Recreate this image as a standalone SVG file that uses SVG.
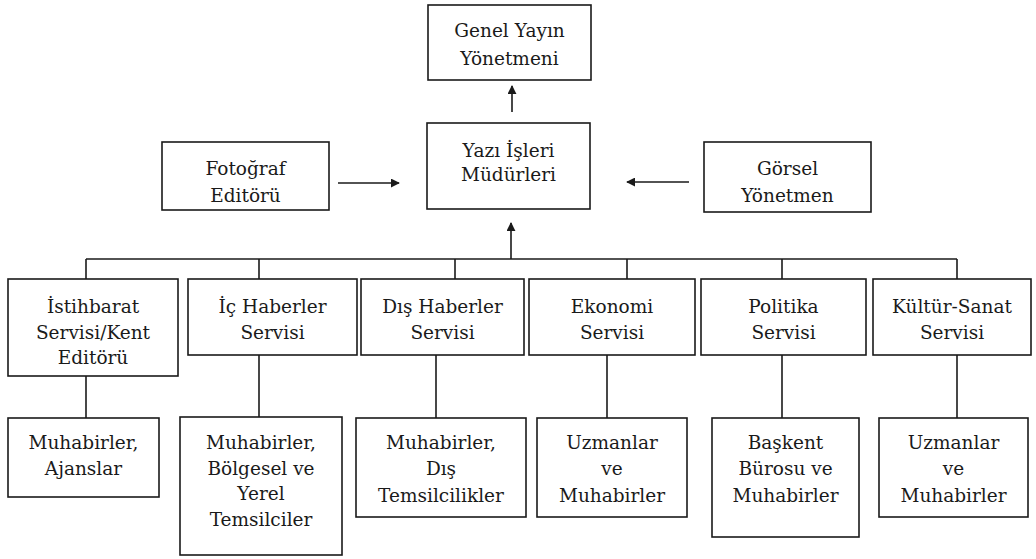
<svg xmlns="http://www.w3.org/2000/svg" width="1036" height="559" viewBox="0 0 1036 559">
<style>
.box{fill:#fff;stroke:#1a1a1a;stroke-width:1.6}
.t{font-family:'DejaVu Serif','Liberation Serif','Noto Serif',serif;font-size:18.5px;fill:#1a1a1a;text-anchor:middle}
.c{stroke:#1a1a1a;stroke-width:1.6;fill:none}
</style>
<defs>
<marker id="ah" viewBox="0 0 10 10" refX="9" refY="5" markerWidth="9" markerHeight="9" markerUnits="userSpaceOnUse" orient="auto">
<path d="M0,0 L10,5 L0,10 Z" fill="#1a1a1a"/>
</marker>
</defs>
<rect width="1036" height="559" fill="#fff"/>
<g id="connectors">
<line class="c" x1="512" y1="112" x2="512" y2="86" marker-end="url(#ah)"/>
<line class="c" x1="338" y1="183" x2="399" y2="183" marker-end="url(#ah)"/>
<line class="c" x1="689" y1="182" x2="627" y2="182" marker-end="url(#ah)"/>
<line class="c" x1="511" y1="259" x2="511" y2="223" marker-end="url(#ah)"/>
<line class="c" x1="86" y1="259" x2="957" y2="259"/>
<line class="c" x1="86" y1="259" x2="86" y2="279"/>
<line class="c" x1="259" y1="259" x2="259" y2="279"/>
<line class="c" x1="455" y1="259" x2="455" y2="279"/>
<line class="c" x1="627" y1="259" x2="627" y2="279"/>
<line class="c" x1="782" y1="259" x2="782" y2="279"/>
<line class="c" x1="957" y1="259" x2="957" y2="279"/>
<line class="c" x1="86" y1="376" x2="86" y2="418"/>
<line class="c" x1="259" y1="355" x2="259" y2="417"/>
<line class="c" x1="436" y1="355" x2="436" y2="418"/>
<line class="c" x1="607" y1="355" x2="607" y2="418"/>
<line class="c" x1="782" y1="355" x2="782" y2="418"/>
<line class="c" x1="957" y1="355" x2="957" y2="418"/>
</g>
<g id="genel">
<rect class="box" x="428" y="5" width="163" height="75"/>
<text class="t" x="509.5" y="37">Genel Yayın</text>
<text class="t" x="509.5" y="65">Yönetmeni</text>
</g>
<g id="yazi">
<rect class="box" x="427" y="123" width="163" height="86"/>
<text class="t" x="508.5" y="157">Yazı İşleri</text>
<text class="t" x="508.5" y="181">Müdürleri</text>
</g>
<g id="foto">
<rect class="box" x="162" y="142" width="167" height="68"/>
<text class="t" x="245.5" y="175">Fotoğraf</text>
<text class="t" x="245.5" y="202">Editörü</text>
</g>
<g id="gorsel">
<rect class="box" x="704" y="142" width="167" height="70"/>
<text class="t" x="787.5" y="175">Görsel</text>
<text class="t" x="787.5" y="202">Yönetmen</text>
</g>
<g id="istihbarat">
<rect class="box" x="8" y="279" width="170" height="97"/>
<text class="t" x="93" y="313">İstihbarat</text>
<text class="t" x="93" y="339">Servisi/Kent</text>
<text class="t" x="93" y="364">Editörü</text>
</g>
<g id="ic">
<rect class="box" x="188" y="279" width="169" height="76"/>
<text class="t" x="272.5" y="313">İç Haberler</text>
<text class="t" x="272.5" y="339">Servisi</text>
</g>
<g id="dis">
<rect class="box" x="361" y="279" width="163" height="76"/>
<text class="t" x="442.5" y="313">Dış Haberler</text>
<text class="t" x="442.5" y="339">Servisi</text>
</g>
<g id="ekonomi">
<rect class="box" x="529" y="279" width="166" height="76"/>
<text class="t" x="612" y="313">Ekonomi</text>
<text class="t" x="612" y="339">Servisi</text>
</g>
<g id="politika">
<rect class="box" x="701" y="279" width="165" height="76"/>
<text class="t" x="783.5" y="313">Politika</text>
<text class="t" x="783.5" y="339">Servisi</text>
</g>
<g id="kultur">
<rect class="box" x="873" y="279" width="158" height="76"/>
<text class="t" x="952" y="313">Kültür-Sanat</text>
<text class="t" x="952" y="339">Servisi</text>
</g>
<g id="ajanslar">
<rect class="box" x="8" y="418" width="151" height="79"/>
<text class="t" x="83.5" y="449">Muhabirler,</text>
<text class="t" x="83.5" y="475">Ajanslar</text>
</g>
<g id="bolgesel">
<rect class="box" x="180" y="417" width="162" height="138"/>
<text class="t" x="261" y="449">Muhabirler,</text>
<text class="t" x="261" y="475">Bölgesel ve</text>
<text class="t" x="261" y="500">Yerel</text>
<text class="t" x="261" y="526">Temsilciler</text>
</g>
<g id="distemsil">
<rect class="box" x="356" y="418" width="170" height="99"/>
<text class="t" x="441" y="449">Muhabirler,</text>
<text class="t" x="441" y="475">Dış</text>
<text class="t" x="441" y="502">Temsilcilikler</text>
</g>
<g id="uzmanlar1">
<rect class="box" x="537" y="418" width="150" height="99"/>
<text class="t" x="612" y="449">Uzmanlar</text>
<text class="t" x="612" y="475">ve</text>
<text class="t" x="612" y="502">Muhabirler</text>
</g>
<g id="baskent">
<rect class="box" x="712" y="418" width="147" height="119"/>
<text class="t" x="785.5" y="449">Başkent</text>
<text class="t" x="785.5" y="475">Bürosu ve</text>
<text class="t" x="785.5" y="502">Muhabirler</text>
</g>
<g id="uzmanlar2">
<rect class="box" x="879" y="418" width="149" height="99"/>
<text class="t" x="953.5" y="449">Uzmanlar</text>
<text class="t" x="953.5" y="475">ve</text>
<text class="t" x="953.5" y="502">Muhabirler</text>
</g>
</svg>
